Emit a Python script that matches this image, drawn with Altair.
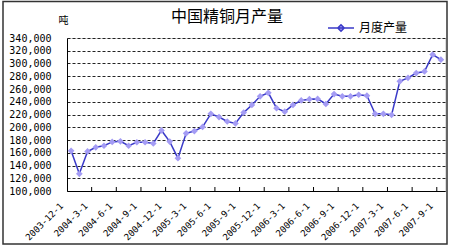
import json
import altair as alt
import pandas as pd

# ---- data ----
month_index = list(range(46))  # 2003-12 ... 2007-09
production = [163000, 127000, 162000, 168500, 171000, 177000, 178000, 171000,
              176500, 176500, 174500, 195000, 177500, 151500, 190500, 194000,
              200500, 221000, 216000, 209000, 206000, 223000, 235000, 248500,
              254000, 230000, 224500, 235000, 242000, 244000, 244500, 236500,
              252000, 248500, 248500, 251000, 249500, 221000, 221000, 219500,
              272000, 277500, 285000, 287500, 314000, 306000]
tick_labels = ["2003-12-1", "2004-3-1", "2004-6-1", "2004-9-1", "2004-12-1",
               "2005-3-1", "2005-6-1", "2005-9-1", "2005-12-1", "2006-3-1",
               "2006-6-1", "2006-9-1", "2006-12-1", "2007-3-1", "2007-6-1",
               "2007-9-1"]
label_positions = [3 * i for i in range(len(tick_labels))]
boundary_positions = [3 * i - 0.5 for i in range(1, len(tick_labels))]
y_ticks = list(range(100000, 340001, 20000))
series_name = "月度产量"
chart_title = "中国精铜月产量"

df = pd.DataFrame({"m": month_index, "v": production, "s": series_name})
ticks_df = pd.DataFrame({"b": boundary_positions})
title_df = pd.DataFrame({"t": [chart_title]})

W, H = 378, 153
LINE = "#3a3ac8"
MARK = "#a49cf4"

xscale = alt.Scale(domain=[-0.5, 45.5], nice=False, zero=False)
yscale = alt.Scale(domain=[100000, 340000], nice=False, zero=False)

label_expr = json.dumps(tick_labels) + "[round(datum.value/3)]"

x_axis = alt.Axis(values=label_positions, tickCount=200, labelExpr=label_expr,
                  ticks=False, grid=False, domain=True, domainColor="#000",
                  title=None, labelAngle=-45, labelAlign="right",
                  labelBaseline="middle", labelPadding=13, labelOffset=-10,
                  labelFont="DejaVu Sans Mono", labelFontSize=9,
                  labelColor="#000", labelOverlap=False, labelFlush=False)
y_axis = alt.Axis(values=y_ticks, tickCount=200, format=",d", ticks=False,
                  grid=True, gridColor="#222", gridDash=[3, 2], gridWidth=1,
                  domain=True, domainColor="#000", labelOverlap=False,
                  labelFlush=False,
                  labelFont="DejaVu Sans Mono", labelFontSize=10,
                  labelColor="#000", labelPadding=16,
                  title="吨", titleAngle=0, titleX=-4, titleY=-18,
                  titleAlign="center", titleBaseline="middle",
                  titleFont="Noto Sans CJK SC", titleFontSize=10,
                  titleFontWeight="normal", titleColor="#000")

legend_path = "M-1,0H1M0,-0.25L0.25,0L0,0.25L-0.25,0Z"

line = alt.Chart(df).mark_line(strokeWidth=1.5).encode(
    x=alt.X("m:Q", scale=xscale, axis=x_axis),
    y=alt.Y("v:Q", scale=yscale, axis=y_axis),
    color=alt.Color("s:N", scale=alt.Scale(range=[LINE]),
                    legend=alt.Legend(title=None, orient="none",
                                      legendX=260, legendY=-24,
                                      symbolType=legend_path, symbolSize=676,
                                      symbolFillColor=MARK,
                                      symbolStrokeColor="#6a62c4",
                                      symbolStrokeWidth=1.5,
                                      labelFont="Noto Sans CJK SC",
                                      labelFontSize=12, labelColor="#000",
                                      labelOffset=4, padding=0)),
)

points = alt.Chart(df).mark_point(shape="diamond", filled=True, size=45,
                                  color=MARK, opacity=1).encode(
    x=alt.X("m:Q", scale=xscale, axis=x_axis),
    y=alt.Y("v:Q", scale=yscale, axis=y_axis),
)

inner_ticks = alt.Chart(ticks_df).mark_rule(color="#000", strokeWidth=1).encode(
    x=alt.X("b:Q", scale=xscale, axis=x_axis),
    y=alt.value(H),
    y2=alt.value(H - 4),
)

title_text = alt.Chart(title_df).mark_text(
    font="Noto Sans CJK SC", fontSize=16, color="#000", align="center",
    baseline="middle").encode(
    text="t:N", x=alt.value(227 - 67), y=alt.value(17 - 38),
)

frame = alt.Chart(title_df).mark_rect(fill=None, stroke="#333",
                                      strokeWidth=1.5).encode(
    x=alt.value(3 - 67), x2=alt.value(447 - 67),
    y=alt.value(1.5 - 38), y2=alt.value(244 - 38),
)

chart = alt.layer(frame, title_text, inner_ticks, line, points).properties(
    width=W, height=H,
    padding={"left": 67, "top": 38, "right": 5, "bottom": 59},
    autosize=alt.AutoSizeParams(type="none"),
).configure_view(stroke="#000", strokeWidth=1).configure(background="white")

chart.save("out.html", embed_options={"renderer": "svg", "actions": False})
